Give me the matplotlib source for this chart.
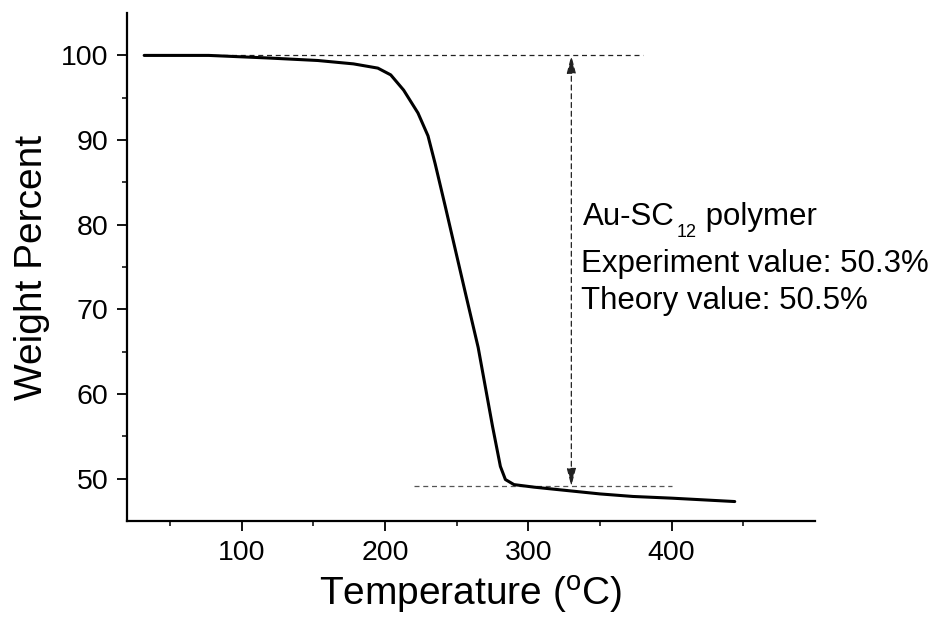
import matplotlib
matplotlib.use("Agg")
import matplotlib.pyplot as plt
from matplotlib.ticker import FixedLocator

plt.rcParams['font.family'] = ['Liberation Sans', 'DejaVu Sans']
plt.rcParams['mathtext.fontset'] = 'custom'
plt.rcParams['mathtext.rm'] = 'Liberation Sans'
plt.rcParams['mathtext.it'] = 'Liberation Sans:italic'
plt.rcParams['mathtext.bf'] = 'Liberation Sans:bold'

# TGA curve
temperature = [32, 77, 118, 153, 178, 195, 204, 213, 223, 230, 235, 242, 249, 256,
               265, 275, 280.5, 284, 290, 304, 327, 350, 373, 400, 444]
weight = [100.0, 100.0, 99.7, 99.4, 99.0, 98.5, 97.7, 95.9, 93.2, 90.5, 87.2, 82.2,
          77.1, 72.0, 65.5, 56.2, 51.45, 49.9, 49.3, 49.0, 48.6, 48.2, 47.9, 47.7, 47.3]

# Reference lines / arrow
upper_level = 100.0
upper_range = [32, 380]
lower_level = 49.1
lower_range = [220, 400]
arrow_x = 330

x_major = [100, 200, 300, 400]
x_minor = [50, 150, 250, 350, 450]
y_major = [50, 60, 70, 80, 90, 100]
y_minor = [55, 65, 75, 85, 95]

title_parts = ["Au-SC", "12", " polymer"]
label_lines = ["Experiment value: 50.3%", "Theory value: 50.5%"]
title_y = 80.0
label_y = [74.4, 70.1]
label_x = 337

fig = plt.figure(figsize=(9.42, 6.23), dpi=100)
ax = fig.add_axes([0.1348, 0.1637, 0.7304, 0.8153])

ax.plot(temperature, weight, color='black', lw=2.2, solid_capstyle='round',
        solid_joinstyle='round', zorder=3)

ax.plot(upper_range, [upper_level, upper_level], color='#222222', lw=0.9,
        linestyle=(0, (4, 3)), zorder=2)
ax.plot(lower_range, [lower_level, lower_level], color='#555555', lw=0.9,
        linestyle=(0, (4, 3)), zorder=2)

ax.annotate('', xy=(arrow_x, upper_level), xytext=(arrow_x, lower_level),
            arrowprops=dict(arrowstyle='<|-|>,head_length=1.1,head_width=0.28',
                            color='#222222', lw=0.9, linestyle=(0, (4, 3)),
                            shrinkA=0, shrinkB=0), zorder=2)

ax.set_xlim(20, 500)
ax.set_ylim(45, 105)
ax.xaxis.set_major_locator(FixedLocator(x_major))
ax.xaxis.set_minor_locator(FixedLocator(x_minor))
ax.yaxis.set_major_locator(FixedLocator(y_major))
ax.yaxis.set_minor_locator(FixedLocator(y_minor))

for s in ['top', 'right']:
    ax.spines[s].set_visible(False)
for s in ['left', 'bottom']:
    ax.spines[s].set_linewidth(1.6)

ax.tick_params(which='major', direction='out', length=7.5, width=1.3, labelsize=20.5, pad=6)
ax.tick_params(which='minor', direction='out', length=3.8, width=1.1)

ax.set_xlabel('Temperature ($^{\\mathrm{o}}$C)', fontsize=28, labelpad=6)
ax.set_ylabel('Weight Percent', fontsize=28, labelpad=8)

# annotation text
fs = 22.5
fig.canvas.draw()
renderer = fig.canvas.get_renderer()
W_in, H_in = fig.get_figwidth(), fig.get_figheight()
t1 = ax.text(label_x + 1, title_y, title_parts[0], fontsize=fs, va='baseline', ha='left')
fig.canvas.draw()
bb = t1.get_window_extent(renderer)
x_pix = bb.x1 + 2
base_pix = ax.transData.transform((label_x, title_y))[1]
t2 = fig.text(x_pix / fig.dpi / W_in, (base_pix - 12) / fig.dpi / H_in,
              title_parts[1], fontsize=13, va='baseline', ha='left')
fig.canvas.draw()
bb2 = t2.get_window_extent(renderer)
fig.text(bb2.x1 / fig.dpi / W_in, base_pix / fig.dpi / H_in,
         title_parts[2], fontsize=fs, va='baseline', ha='left')

for txt, yy in zip(label_lines, label_y):
    ax.text(label_x, yy, txt, fontsize=fs, va='baseline', ha='left')

fig.savefig('out.png', dpi=100)
